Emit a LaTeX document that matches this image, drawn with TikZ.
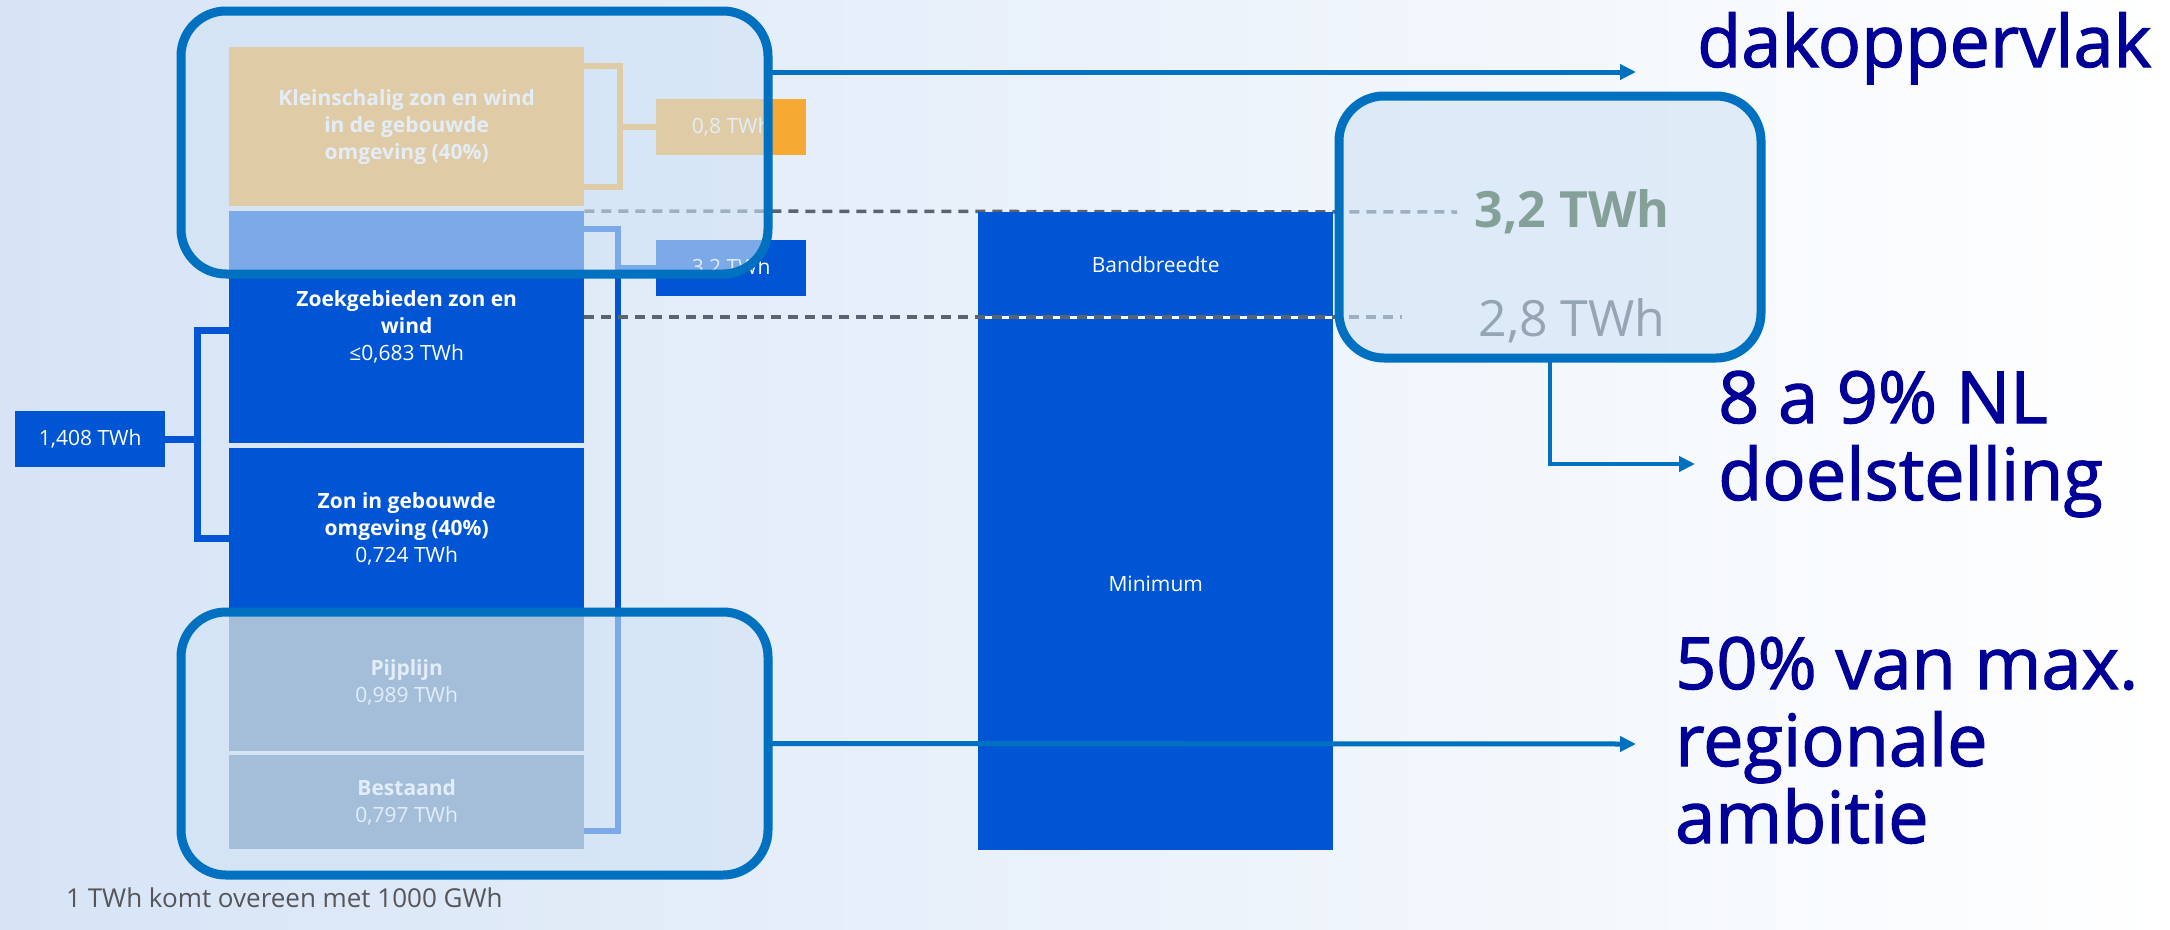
\documentclass[tikz,border=0pt]{standalone}
\usepackage{fontspec}
\setmainfont{Open Sans}
\newfontfamily\headfont{Open Sans}[FakeBold=1.6]
\usetikzlibrary{arrows.meta}
\definecolor{bgleft}{RGB}{214,228,246}
\definecolor{barblue}{RGB}{0,85,212}
\definecolor{linkblue}{RGB}{0,112,192}
\definecolor{hiliteblue}{RGB}{208,226,244}
\definecolor{sunorange}{RGB}{247,170,50}
\definecolor{pipegray}{RGB}{98,136,179}
\definecolor{dashgray}{RGB}{90,100,112}
\definecolor{navytext}{RGB}{0,0,153}
\definecolor{greentwh}{RGB}{133,160,152}
\definecolor{graytwh}{RGB}{150,165,180}
\definecolor{notegray}{RGB}{85,85,90}
\newcommand\boxfont{\fontsize{21}{27}\selectfont}

\begin{document}
\begin{tikzpicture}[x=1pt, y=-1pt, >={Triangle[length=16pt, width=15pt]}]
    \tikzset{
        block/.style  = {rectangle, fill=barblue, text=white, inner sep=0pt, anchor=north west, align=center, font=\boxfont},
        tag/.style    = {block, minimum width=150pt, minimum height=56pt},
        hilite/.style = {rectangle, rounded corners=45pt, draw=linkblue, line width=9pt, fill=hiliteblue, fill opacity=0.6, outer sep=0pt, anchor=north west},
        link/.style   = {->, draw=linkblue, line width=5pt},
        brace/.style  = {line width=6pt},
        guide/.style  = {dashgray, line width=3.5pt, dash pattern=on 10pt off 7pt},
        big/.style    = {text=navytext, inner sep=0pt, anchor=base west, align=left, font=\headfont\fontsize{72}{77}\selectfont}
    }
    \shade[left color=bgleft, right color=white] (0,0) rectangle (2170,929);
    \useasboundingbox (0,0) rectangle (2170,929);

    \node[block, fill=sunorange, minimum width=355pt, minimum height=159pt] (KLEIN) at (229,47) {\textbf{Kleinschalig zon en wind}\\\textbf{in de gebouwde}\\\textbf{omgeving (40\%)}};
    \node[block, minimum width=355pt, minimum height=232pt] (ZOEK) at (229,211) {\textbf{Zoekgebieden zon en}\\\textbf{wind}\\≤0,683 TWh};
    \node[block, minimum width=355pt, minimum height=162pt] (ZON) at (229,448) {\textbf{Zon in gebouwde}\\\textbf{omgeving (40\%)}\\0,724 TWh};
    \node[block, fill=pipegray, minimum width=355pt, minimum height=138pt] (PIJP) at (229,613) {\textbf{Pijplijn}\\0,989 TWh};
    \node[block, fill=pipegray, minimum width=355pt, minimum height=94pt] (BEST) at (229,755) {\textbf{Bestaand}\\0,797 TWh};

    \node[tag, fill=sunorange] (TAG08) at (656,99) {0,8 TWh};
    \node[tag] (TAG32) at (656,240) {3,2 TWh};
    \node[tag] (TAG14) at (15,411) {1,408 TWh};

    \coordinate (T1) at (620,66);
    \coordinate (T2) at (620,187);
    \draw[brace, sunorange] (KLEIN.east |- T1) -- (T1) -- (T2) -- (KLEIN.east |- T2);
    \draw[brace, sunorange] (T1 |- TAG08) -- (TAG08.west);

    \coordinate (B1) at (618,229);
    \coordinate (B2) at (618,831);
    \draw[brace, barblue] (ZOEK.east |- B1) -- (B1) -- (B2) -- (BEST.east |- B2);
    \draw[brace, barblue] (B1 |- TAG32) -- (TAG32.west);

    \coordinate (L1) at (197,330);
    \coordinate (L2) at (197,538);
    \draw[brace, barblue, line width=7pt] (ZOEK.west |- L1) -- (L1) -- (L2) -- (ZON.west |- L2);
    \draw[brace, barblue, line width=7pt] (TAG14.east) -- (L1 |- TAG14);

    \coordinate (D1) at (1457,212);
    \coordinate (D2) at (1402,317);
    \draw[guide] (ZOEK.north east) -- (D1);

    \node[block, minimum width=355pt, minimum height=105pt] (BAND) at (978,212) {Bandbreedte};
    \node[block, minimum width=355pt, minimum height=533pt] (MINI) at (978,317) {Minimum};
    \draw[white, line width=3pt] (MINI.north west) -- (MINI.north east);
    \draw[guide] (ZOEK.east |- MINI.north) -- (D2);

    \node[hilite, minimum width=587pt, minimum height=263pt] (HLTOP) at (181,11) {};
    \node[hilite, minimum width=587pt, minimum height=263pt] (HLBOT) at (181,612) {};
    \node[hilite, minimum width=422pt, minimum height=262pt] (HLRIGHT) at (1339,96) {};

    \node[font=\bfseries\fontsize{50}{50}\selectfont, text=greentwh, anchor=base, inner sep=0pt] (MAX) at (1572,227) {3,2 TWh};
    \node[font=\fontsize{50}{50}\selectfont, text=graytwh, anchor=base, inner sep=0pt] (MIN) at (1572,336) {2,8 TWh};

    \coordinate (DAK) at (1636,72);
    \coordinate (AMB) at (1636,744);
    \coordinate (DOEL) at (1695,464);
    \draw[link] (HLTOP.east |- DAK) -- (DAK);
    \draw[link] (HLBOT.east) -- (AMB);
    \draw[link, line width=4pt] (HLRIGHT.south) |- (DOEL);

    \node[big] (DAKTXT) at (1697,67) {dakoppervlak};
    \node[big] (DOELTXT) at (1718,500) {8 a 9\% NL\\doelstelling};
    \node[big] (AMBTXT) at (1675,843) {50\% van max.\\regionale\\ambitie};

    \node[font=\fontsize{26}{30}\selectfont, text=notegray, anchor=west, inner sep=0pt] (NOTE) at (66,898) {1 TWh komt overeen met 1000 GWh};
\end{tikzpicture}
\end{document}
